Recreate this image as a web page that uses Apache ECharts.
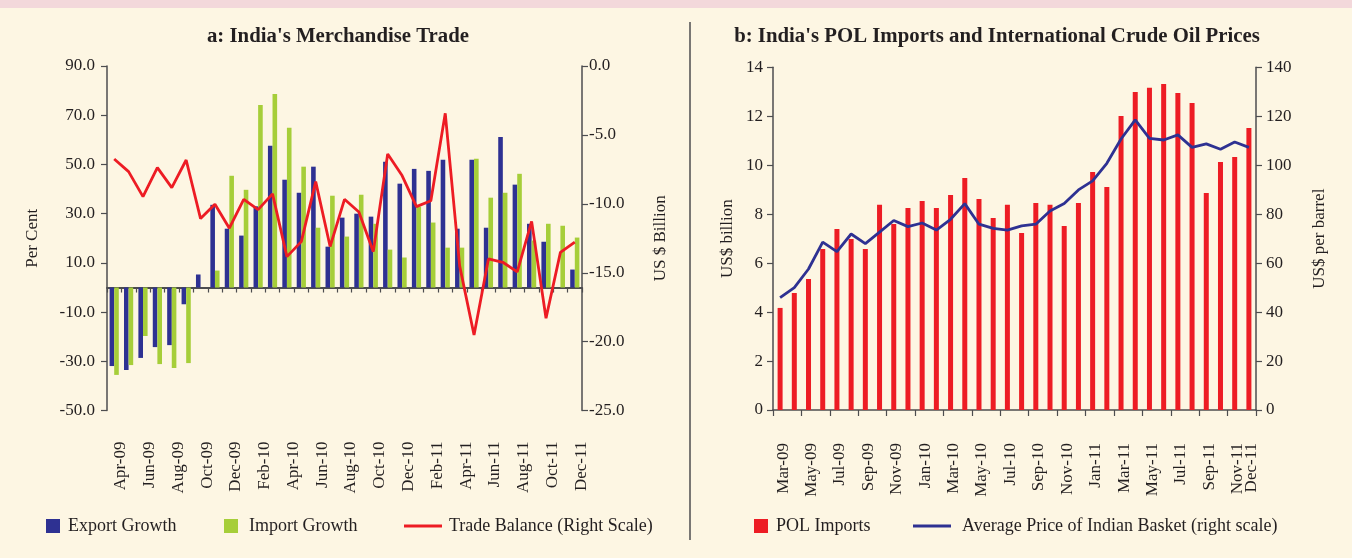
<!DOCTYPE html>
<html><head><meta charset="utf-8">
<script src="https://cdn.jsdelivr.net/npm/echarts@6/dist/echarts.min.js"></script>
<style>html,body{margin:0;padding:0;background:#FDF6E3;}#c{width:1352px;height:558px;}</style>
</head><body><div id="c"></div>
<script>
// ---- Panel a: India's Merchandise Trade ----
const monthsA = ['Apr-09','May-09','Jun-09','Jul-09','Aug-09','Sep-09','Oct-09','Nov-09','Dec-09','Jan-10','Feb-10','Mar-10','Apr-10','May-10','Jun-10','Jul-10','Aug-10','Sep-10','Oct-10','Nov-10','Dec-10','Jan-11','Feb-11','Mar-11','Apr-11','May-11','Jun-11','Jul-11','Aug-11','Sep-11','Oct-11','Nov-11','Dec-11'];
const exportGrowth = [-31.9,-33.5,-28.6,-24.2,-23.4,-6.8,5.3,33.6,23.9,21.1,33.0,57.6,43.8,38.5,49.1,16.6,28.4,30.0,28.8,51.1,42.2,48.2,47.4,51.9,23.9,51.9,24.3,61.2,41.8,25.9,18.6,0,7.3];
const importGrowth = [-35.5,-31.5,-19.7,-31.1,-32.7,-30.7,0,6.9,45.4,39.7,74.2,78.6,64.9,49.1,24.3,37.3,20.7,37.7,25.9,15.4,12.2,32.8,26.4,16.2,16.2,52.3,36.5,38.5,46.2,19.1,25.9,25.1,20.3];
const tradeBalance = [-6.75,-7.66,-9.48,-7.37,-8.82,-6.82,-11.07,-10.03,-11.77,-9.67,-10.42,-9.28,-13.83,-12.74,-8.39,-13.10,-9.67,-10.59,-13.47,-6.38,-7.95,-10.20,-9.77,-3.43,-14.5,-19.51,-14.0,-14.24,-14.94,-11.27,-18.30,-13.52,-12.77];
const perCentTicks = [-50,-30,-10,10,30,50,70,90];
const billionTicks = [-25,-20,-15,-10,-5,0];

// ---- Panel b: POL Imports and Crude Oil Prices ----
const monthsB = ['Mar-09','Apr-09','May-09','Jun-09','Jul-09','Aug-09','Sep-09','Oct-09','Nov-09','Dec-09','Jan-10','Feb-10','Mar-10','Apr-10','May-10','Jun-10','Jul-10','Aug-10','Sep-10','Oct-10','Nov-10','Dec-10','Jan-11','Feb-11','Mar-11','Apr-11','May-11','Jun-11','Jul-11','Aug-11','Sep-11','Oct-11','Nov-11','Dec-11'];
const polImports = [4.17,4.78,5.35,6.58,7.39,6.99,6.58,8.38,7.60,8.25,8.54,8.25,8.78,9.48,8.62,7.84,8.38,7.23,8.46,8.38,7.52,8.46,9.72,9.11,12.01,12.99,13.16,13.32,12.95,12.54,8.87,10.13,10.34,11.52];
const basketPrice = [45.9,50.0,57.6,68.6,64.7,71.9,68.0,72.7,77.4,74.9,76.4,73.5,77.9,84.3,75.9,74.2,73.5,75.2,75.9,81.3,84.4,89.9,93.6,100.8,110.7,118.5,111.0,110.3,112.4,107.3,108.7,106.5,109.5,107.3];
const usdBillionTicks = [0,2,4,6,8,10,12,14];
const usdBarrelTicks = [0,20,40,60,80,100,120,140];

const FONT = 'Liberation Serif';
const TXT = '#231F20';
const AX = '#4D4D4F';
const NAVY = '#2E3192', LIME = '#A6CE39', RED = '#ED1C24';

function rng(t){ return {min:t[0], max:t[t.length-1], interval:t[1]-t[0]}; }
function yAx(grid, pos, ticks, name, nameGap, fmt, margin){
  return Object.assign({
    type:'value', gridIndex:grid, position:pos,
    name:name, nameLocation:'middle', nameGap:nameGap, nameRotate:90, nameMoveOverlap:false,
    nameTextStyle:{fontFamily:FONT, fontSize:17, color:TXT},
    axisLine:{show:true, onZero:false, lineStyle:{color:AX, width:1.5}},
    axisTick:{show:true, length:6, lineStyle:{color:AX, width:1.2}},
    axisLabel:{fontFamily:FONT, fontSize:17, color:TXT, margin:margin, formatter:fmt},
    splitLine:{show:false}
  }, rng(ticks));
}
const lbl = {fontFamily:FONT, fontSize:17, color:TXT, rotate:90, hideOverlap:false};
const lastB = monthsB.length - 1;

function legendItem(name, left, w, h, pad){
  return {data:[name], left:left, top:517, icon:'rect', itemWidth:w, itemHeight:h, selectedMode:false,
    padding:0, textStyle:{fontFamily:FONT, fontSize:18, color:TXT, padding:[0,0,0,pad]}};
}

const option = {
  backgroundColor:'#FDF6E3',
  animation:false,
  grid:[
    {left:107, top:66, width:475, height:344.6, outerBoundsMode:'none'},
    {left:773, top:67.3, width:483, height:342.7, outerBoundsMode:'none'}
  ],
  xAxis:[
    {type:'category', gridIndex:0, data:monthsA, position:'top',
     axisLine:{show:true, onZero:true, onZeroAxisIndex:0, lineStyle:{color:AX, width:1.8}},
     axisTick:{show:true, inside:true, interval:0, length:5, lineStyle:{color:AX, width:1.2}},
     axisLabel:{show:false}, splitLine:{show:false}},
    {type:'category', gridIndex:0, data:monthsA, position:'bottom',
     axisLine:{show:false, onZero:false}, axisTick:{show:false},
     axisLabel:Object.assign({interval:1, margin:31, verticalAlign:'top', lineHeight:13}, lbl), splitLine:{show:false}},
    {type:'category', gridIndex:1, data:monthsB, position:'bottom',
     axisLine:{show:true, onZero:false, lineStyle:{color:AX, width:1.5}},
     axisTick:{show:true, interval:1, length:6, lineStyle:{color:AX, width:1.2}},
     axisLabel:Object.assign({interval:function(i){return i%2===0 && i!==lastB;}, margin:33, verticalAlign:'top', lineHeight:6}, lbl),
     splitLine:{show:false}},
    {type:'category', gridIndex:1, data:monthsB, position:'bottom',
     axisLine:{show:false, onZero:false}, axisTick:{show:false},
     axisLabel:Object.assign({interval:function(i){return i===lastB;}, margin:33, verticalAlign:'top', lineHeight:6, showMaxLabel:true}, lbl),
     splitLine:{show:false}}
  ],
  yAxis:[
    yAx(0,'left',perCentTicks,'Per Cent',66,function(v){return v.toFixed(1);},12),
    yAx(0,'right',billionTicks,'US $ Billion',70,function(v){return v.toFixed(1);},7),
    yAx(1,'left',usdBillionTicks,'US$ billion',37,function(v){return String(v);},10),
    yAx(1,'right',usdBarrelTicks,'US$ per barrel',55,function(v){return String(v);},10)
  ],
  legend:[
    legendItem('Export Growth',46,14,14,3),
    legendItem('Import Growth',224,14,14,6),
    legendItem('Trade Balance (Right Scale)',404,38,3,2),
    legendItem('POL Imports',754,14,14,3),
    legendItem('Average Price of Indian Basket (right scale)',913,38,3,6)
  ],
  series:[
    {name:'Export Growth', type:'bar', xAxisIndex:0, yAxisIndex:0, data:exportGrowth,
     barWidth:4.6, barGap:'0%', itemStyle:{color:NAVY}},
    {name:'Import Growth', type:'bar', xAxisIndex:0, yAxisIndex:0, data:importGrowth,
     barWidth:4.6, barGap:'0%', itemStyle:{color:LIME}},
    {name:'Trade Balance (Right Scale)', type:'line', xAxisIndex:0, yAxisIndex:1, data:tradeBalance,
     symbol:'none', showSymbol:false, lineStyle:{color:RED, width:2.8}, itemStyle:{color:RED}, z:5},
    {name:'POL Imports', type:'bar', xAxisIndex:2, yAxisIndex:2, data:polImports,
     barWidth:5, itemStyle:{color:RED}},
    {name:'Average Price of Indian Basket (right scale)', type:'line', xAxisIndex:2, yAxisIndex:3, data:basketPrice,
     symbol:'none', showSymbol:false, lineStyle:{color:NAVY, width:2.8}, itemStyle:{color:NAVY}, z:5}
  ],
  graphic:[
    {type:'rect', left:0, top:0, shape:{width:1352, height:8}, style:{fill:'#F3D8DB'}, silent:true},
    {type:'line', shape:{x1:690, y1:22, x2:690, y2:540}, style:{stroke:'#4D4D4F', lineWidth:1.5}, silent:true},
    {type:'text', x:338, y:37, style:{text:"a: India's Merchandise Trade", font:'bold 20.8px "Liberation Serif"', fill:TXT, textAlign:'center', textVerticalAlign:'middle'}},
    {type:'text', x:997, y:37, style:{text:"b: India's POL Imports and International Crude Oil Prices", font:'bold 20.8px "Liberation Serif"', fill:TXT, textAlign:'center', textVerticalAlign:'middle'}}
  ]
};
const chart = echarts.init(document.getElementById('c'), null, {renderer:'canvas'});
chart.setOption(option);
</script></body></html>
